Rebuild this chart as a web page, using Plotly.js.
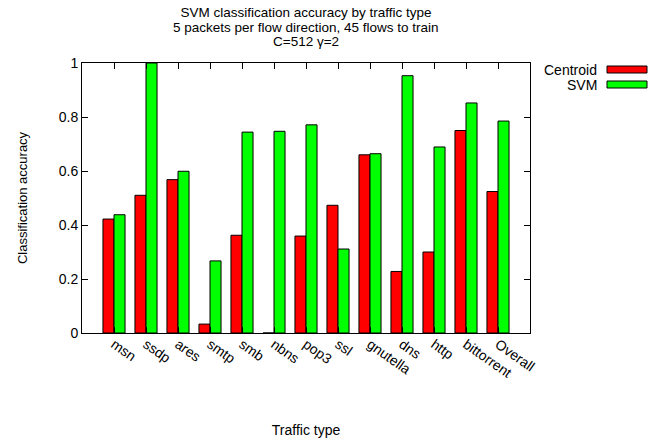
<!DOCTYPE html>
<html>
<head>
<meta charset="utf-8">
<script src="https://cdn.plot.ly/plotly-3.0.1.min.js"></script>
<style>html,body{margin:0;padding:0;background:#fff;}#chart{width:664px;height:443px;}</style>
</head>
<body>
<div id="chart"></div>
<script>
const categories = ["msn","ssdp","ares","smtp","smb","nbns","pop3","ssl","gnutella","dns","http","bittorrent","Overall"];
const centroid = [0.422,0.510,0.568,0.033,0.362,0.0,0.359,0.473,0.660,0.228,0.300,0.750,0.524];
const svm = [0.438,1.0,0.599,0.267,0.744,0.747,0.771,0.311,0.664,0.953,0.689,0.852,0.785];
const seriesNames = ["Centroid","SVM"];
const seriesColors = ["#ff0000","#00ff00"];
const yTicks = [0,0.2,0.4,0.6,0.8,1];
const yTickLabels = ["0","0.2","0.4","0.6","0.8","1"];
const titleLines = ["SVM classification accuracy by traffic type","5 packets per flow direction, 45 flows to train","C=512 γ=2"];

const FAM = "Liberation Sans, Arial, sans-serif";
const font = {family: FAM, size: 14, color: "#000"};
const titleFont = {family: FAM, size: 13.5, color: "#000"};
const idx = categories.map((c,i)=>i);

const traces = [centroid, svm].map((vals,k)=>({
  type: "bar",
  x: idx,
  y: vals,
  name: seriesNames[k],
  marker: {color: seriesColors[k], line: {color: "#000", width: 1}},
  showlegend: false,
  hoverinfo: "x+y"
}));

const PH = 270; // plot height in px
const annotations = [];
const shapes = [];
// subtitle lines
[27.3, 41.5].forEach((ypx,i)=>{
  annotations.push({xref:"paper", yref:"paper", x: 0.5, y: (333 - ypx)/PH, xanchor:"center", yanchor:"middle",
    text: titleLines[i+1], showarrow:false, font: titleFont, borderpad: 0});
});
// legend
seriesNames.forEach((n,k)=>{
  const yy = 1 - (7 + 15*k)/PH;
  annotations.push({xref:"paper", yref:"paper", x: 1 + 68/448, y: yy, xanchor:"right", yanchor:"middle",
    text: n, showarrow:false, font: font, borderpad: 0});
  shapes.push({type:"rect", xref:"paper", yref:"paper",
    x0: 1 + 77/448, x1: 1 + 117/448, y0: yy - 3/PH, y1: yy + 4/PH,
    fillcolor: seriesColors[k], line:{color:"#000", width:1}});
});

const layout = {
  width: 664, height: 443,
  margin: {l: 82, r: 134, t: 63, b: 110},
  paper_bgcolor: "#fff", plot_bgcolor: "#fff",
  font: font,
  title: {text: titleLines[0], x: 0.5, xref: "paper", y: 1 - 12.3/443, yref: "container", yanchor: "middle", font: titleFont},
  barmode: "group", bargap: 0.31, bargroupgap: 0,
  xaxis: {
    range: [-1, 13], tickmode: "array", tickvals: idx, ticktext: categories,
    tickangle: 35, ticks: "inside", ticklen: 6, tickcolor: "#000",
    showline: true, linecolor: "#000", linewidth: 1, mirror: "ticks",
    showgrid: false, zeroline: false, tickfont: font, ticklabelstandoff: -3,
    title: {text: "Traffic type", font: font, standoff: 45}
  },
  yaxis: {
    range: [0, 1], tickmode: "array", tickvals: yTicks, ticktext: yTickLabels,
    ticks: "inside", ticklen: 6, tickcolor: "#000",
    showline: true, linecolor: "#000", linewidth: 1, mirror: "ticks",
    showgrid: false, zeroline: false, tickfont: font,
    title: {text: "Classification accuracy", font: {family: FAM, size: 13, color: "#000"}, standoff: 28}
  },
  annotations: annotations,
  shapes: shapes
};

Plotly.newPlot("chart", traces, layout, {displayModeBar: false, staticPlot: true});
</script>
</body>
</html>
